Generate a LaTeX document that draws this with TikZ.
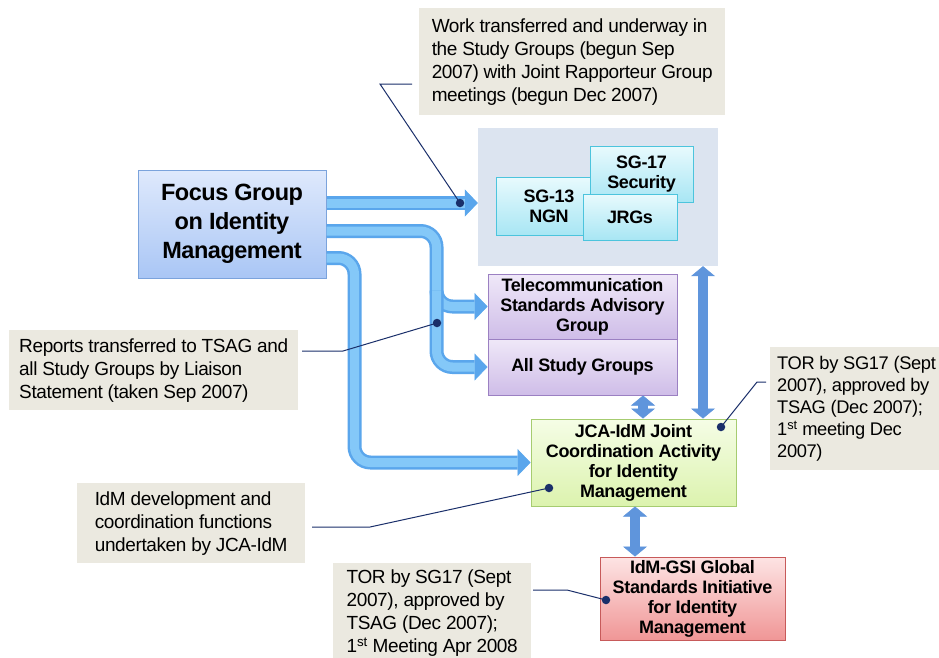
\documentclass[tikz,border=0pt]{standalone}
\usepackage{fontspec}
\setmainfont{Liberation Sans}
\newfontfamily\tightfont[LetterSpace=-2]{Liberation Sans}
\usetikzlibrary{arrows.meta,calc}
\definecolor{panelc}{HTML}{DCE4F0}
\definecolor{calloutc}{HTML}{EBE9E0}
\definecolor{navy}{HTML}{1A2F6A}
\definecolor{pipeo}{HTML}{5AA6EC}
\definecolor{pipei}{HTML}{84C8F8}
\definecolor{dblc}{HTML}{5F95DC}
\tikzset{
  box/.style={draw, line width=1pt, inner sep=0pt, align=center, font=\tightfont\bfseries\fontsize{18}{20}\selectfont},
  sgbox/.style={box, draw={rgb,255:red,76;green,196;blue,221}, top color={rgb,255:red,232;green,250;blue,253}, bottom color={rgb,255:red,168;green,230;blue,244}},
  purbox/.style={box, draw={rgb,255:red,155;green,128;blue,194}, top color={rgb,255:red,239;green,232;blue,248}, bottom color={rgb,255:red,207;green,189;blue,232}},
  callout/.style={fill=calloutc, inner xsep=7pt, inner ysep=4pt, align=left, anchor=north west, font=\tightfont\fontsize{19}{23}\selectfont},
  pipeout/.style={line width=14pt, pipeo, rounded corners=16pt, -{Triangle[width=27pt,length=13pt,line width=0.5pt]}},
  pipein/.style={line width=9pt, pipei, rounded corners=16pt, shorten >=13pt},
  dbl/.style={line width=10pt, dblc, {Triangle[width=24pt,length=10pt,line width=0.5pt]}-{Triangle[width=24pt,length=10pt,line width=0.5pt]}},
  leader/.style={navy, line width=1pt},
  dot/.style={circle, fill=navy, inner sep=0pt, minimum size=8.5pt}
}
\newcommand\pipedraw[1]{\draw[pipeout] #1; \draw[pipein] #1;}
\begin{document}
\begin{tikzpicture}[x=1pt,y=-1pt]
\clip (0,0) rectangle (939,657);
\fill[white] (0,0) rectangle (939,657);

% panel
\node[fill=panelc, minimum width=240pt, minimum height=138pt, inner sep=0pt] (panel) at (598,197) {};

% boxes
\node[box, draw={rgb,255:red,123;green,163;blue,220}, top color={rgb,255:red,223;green,233;blue,252}, bottom color={rgb,255:red,169;green,198;blue,245}, minimum width=188pt, minimum height=108pt, font=\tightfont\bfseries\fontsize{23.5}{29}\selectfont] (fg) at (232,224) {Focus Group\\on Identity\\Management};
\node[sgbox, minimum width=94pt, minimum height=58pt, text width=94pt] (sg13) at (543,206) {\hspace*{12pt}SG-13\\\hspace*{12pt}NGN};
\node[sgbox, minimum width=103pt, minimum height=56pt] (sg17) at (641.5,174) {SG-17\\Security};
\node[sgbox, minimum width=94pt, minimum height=46pt] (jrg) at (630,217) {JRGs};

\node[purbox, minimum width=189pt, minimum height=65pt] (tsag) at (582.5,306.5) {Telecommunication\\Standards Advisory\\Group};
\node[purbox, minimum width=189pt, minimum height=56pt] (asg) at (582.5,367) {All Study Groups};

\node[box, draw={rgb,255:red,166;green,204;blue,112}, top color={rgb,255:red,245;green,253;blue,230}, bottom color={rgb,255:red,220;green,243;blue,174}, minimum width=205pt, minimum height=87pt] (jca) at (633.5,462.5) {JCA-IdM Joint\\Coordination Activity\\for Identity\\Management};

\node[box, draw={rgb,255:red,199;green,90;blue,90}, top color={rgb,255:red,253;green,228;blue,228}, bottom color={rgb,255:red,240;green,150;blue,150}, minimum width=185pt, minimum height=83pt] (gsi) at (692.5,598.5) {IdM-GSI Global\\Standards Initiative\\for Identity\\Management};

% pipes
\pipedraw{([yshift=21]fg.east) -- ([yshift=21]fg.east -| panel.west)}
\pipedraw{([yshift=-7]fg.east) -| ([xshift=-51]tsag.west) -- (tsag.west)}
\pipedraw{([xshift=-51,yshift=16]tsag.west) |- (asg.west)}
\pipedraw{([yshift=-34]fg.east) -| ([xshift=-176]jca.west) -- (jca.west)}

% double arrows
\draw[dbl] ([xshift=60.5]asg.south) -- ([xshift=60.5]asg.south |- jca.north);
\draw[dbl] ([xshift=105]panel.south) -- ([xshift=105]panel.south |- jca.north);
\draw[dbl] ([xshift=1.5]jca.south) -- ([xshift=1.5]jca.south |- gsi.north);

% callouts
\node[callout, minimum width=306pt, minimum height=107pt] (c1) at (419,8) {Work transferred and underway in\\the Study Groups (begun Sep\\2007) with Joint Rapporteur Group\\meetings (begun Dec 2007)};
\node[callout, minimum width=289pt, minimum height=80pt] (c2) at (9,330) {Reports transferred to TSAG and\\all Study Groups by Liaison\\Statement (taken Sep 2007)};
\node[callout, minimum width=228pt, minimum height=80pt] (c3) at (77,483) {IdM development and\\coordination functions\\undertaken by JCA-IdM};
\node[callout, minimum width=198pt, minimum height=100pt] (c4) at (333,563) {TOR by SG17 (Sept\\2007), approved by\\TSAG (Dec 2007);\\1\textsuperscript{st} Meeting Apr 2008};
\node[callout, minimum width=169pt, minimum height=123pt, font=\tightfont\fontsize{18.3}{22}\selectfont] (c5) at (770,347) {TOR by SG17 (Sept\\2007), approved by\\TSAG (Dec 2007);\\1\textsuperscript{st} meeting Dec\\2007)};

% leader lines
\node[dot] (d1) at (460,203) {};
\node[dot] (d2) at (437,323) {};
\node[dot] (d3) at (549,488) {};
\node[dot] (d4) at (606,600) {};
\node[dot] (d5) at (721,427) {};
\draw[leader] (412,84) -- (380,84) -- (d1.center);
\draw[leader] (302,351) -- (343,351) -- (d2.center);
\draw[leader] (312,527) -- (370,527) -- (d3.center);
\draw[leader] (533,590) -- (567,590) -- (d4.center);
\draw[leader] (766,382) -- (757,382) -- (d5.center);
\end{tikzpicture}
\end{document}
